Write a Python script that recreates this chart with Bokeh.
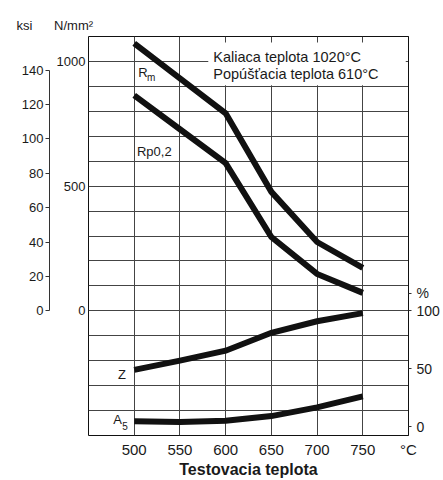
from bokeh.plotting import figure
from bokeh.models import Range1d, LinearAxis, FixedTicker, Label
from bokeh.embed import file_html
from bokeh.resources import INLINE

# ---- data ----
temps = [500, 550, 600, 650, 700, 750]            # °C
rm = [1072, 932, 792, 477, 276, 172]              # N/mm²
rp02 = [864, 728, 592, 296, 148, 72]              # N/mm²
z_pct = [49, 57, 65.5, 81, 91, 98]                # %
a5_pct = [4.5, 4, 5, 9, 16.5, 26]                 # %

x_ticks = [500, 550, 600, 650, 700, 750, 800]
x_tick_text = {800: "°C"}
n_ticks = [0, 500, 1000]
ksi_ticks = [0, 20, 40, 60, 80, 100, 120, 140]
pct_ticks = [0, 50, 100, 115]
pct_tick_text = {115: "%"}
grid_x = [500, 550, 600, 650, 700, 750]
grid_y = list(range(-400, 1100, 100))

FONT = "Liberation Sans"
KSI = 6.895  # N/mm² per ksi
PCT = 4.64   # N/mm² units per percent on the chart

p = figure(width=443, height=480,
           x_range=Range1d(450, 800), y_range=Range1d(-500, 1100),
           output_backend="svg", toolbar_location=None,
           min_border_left=88, min_border_right=35,
           min_border_top=36, min_border_bottom=44)
p.extra_y_ranges = {
    "ksi": Range1d(-500 / KSI, 1100 / KSI),
    "pct": Range1d(100 - 500 / PCT, 100 + 1100 / PCT),
}
p.background_fill_color = "white"
p.border_fill_color = "white"
p.outline_line_color = "#111111"
p.outline_line_width = 1

# unit captions above the left axes
p.title.text = "ksi\u00a0\u00a0\u00a0\u00a0\u00a0\u00a0N/mm²"
p.title.align = "left"
p.title.offset = -72
p.title.standoff = 8
p.title.text_font = FONT
p.title.text_font_size = "13px"
p.title.text_font_style = "normal"
p.title.text_color = "#1a1a1a"

# grid
p.xgrid.ticker = FixedTicker(ticks=grid_x)
p.ygrid.ticker = FixedTicker(ticks=grid_y)
for g in (p.xgrid, p.ygrid):
    g.grid_line_color = "#444444"
    g.grid_line_width = 1

# x axis
xa = p.xaxis[0]
xa.ticker = FixedTicker(ticks=x_ticks)
xa.major_label_overrides = x_tick_text
xa.axis_line_color = None
xa.major_tick_out = 0
xa.major_tick_in = 0
xa.major_tick_line_color = None
xa.minor_tick_line_color = None
xa.major_label_standoff = 5
xa.major_label_text_font = FONT
xa.major_label_text_font_size = "15px"
xa.major_label_text_color = "#1a1a1a"
xa.axis_label = "Testovacia teplota"
xa.axis_label_text_font = FONT
xa.axis_label_text_font_size = "16px"
xa.axis_label_text_font_style = "bold"
xa.axis_label_text_color = "#1a1a1a"
xa.axis_label_standoff = 0

# N/mm² axis (inner left)
ya = p.yaxis[0]
ya.ticker = FixedTicker(ticks=n_ticks)
ya.axis_line_color = None
ya.major_tick_out = 0
ya.major_tick_in = 0
ya.major_tick_line_color = None
ya.minor_tick_line_color = None
ya.major_label_standoff = 3
ya.major_label_text_font = FONT
ya.major_label_text_font_size = "13px"
ya.major_label_text_color = "#1a1a1a"
ya.axis_label = " "
ya.axis_label_text_font_size = "1px"
ya.axis_label_standoff = 0

# ksi axis (outer left)
ka = LinearAxis(y_range_name="ksi", ticker=FixedTicker(ticks=ksi_ticks), bounds=(0, 140))
ka.axis_line_color = "#333333"
ka.axis_line_width = 1
ka.major_tick_out = 4
ka.major_tick_in = 0
ka.major_tick_line_color = "#333333"
ka.minor_tick_line_color = None
ka.major_label_standoff = 2
ka.major_label_text_font = FONT
ka.major_label_text_font_size = "13px"
ka.major_label_text_color = "#1a1a1a"
p.add_layout(ka, "left")

# % axis (right)
pa = LinearAxis(y_range_name="pct", ticker=FixedTicker(ticks=pct_ticks))
pa.major_label_overrides = pct_tick_text
pa.axis_line_color = "#111111"
pa.major_tick_out = 3
pa.major_tick_in = 0
pa.major_tick_line_color = "#333333"
pa.minor_tick_line_color = None
pa.major_label_standoff = 5
pa.major_label_text_font = FONT
pa.major_label_text_font_size = "14px"
pa.major_label_text_color = "#1a1a1a"
p.add_layout(pa, "right")

# white box behind the heat-treatment note
p.quad(left=581, right=797, bottom=905, top=1076, fill_color="white", line_color=None)

# curves
for ys, rng in ((rm, "default"), (rp02, "default"), (z_pct, "pct"), (a5_pct, "pct")):
    p.line(temps, ys, y_range_name=rng, line_width=6, line_color="#111111", line_join="miter")


def lab(x, y, text, size="13px", align="left", base="middle", rng="default", style="normal"):
    p.add_layout(Label(x=x, y=y, text=text, text_font=FONT, text_font_size=size,
                       text_align=align, text_baseline=base, y_range_name=rng,
                       text_color="#1a1a1a", text_font_style=style))


# note
lab(586.5, 1017, "Kaliaca teplota 1020°C", size="14.5px")
lab(586.5, 948, "Popúšťacia teplota 610°C", size="14.5px")

# curve labels
lab(504.5, 956, "R", size="13px")
lab(514, 936, "m", size="10px")
lab(503, 640, "Rp0,2", size="13px")
lab(491, -256, "Z", size="13px", align="right")
lab(477, -434, "A", size="13px")
lab(486.8, -462, "5", size="10px")

open("out.html", "w").write(file_html(p, INLINE))
